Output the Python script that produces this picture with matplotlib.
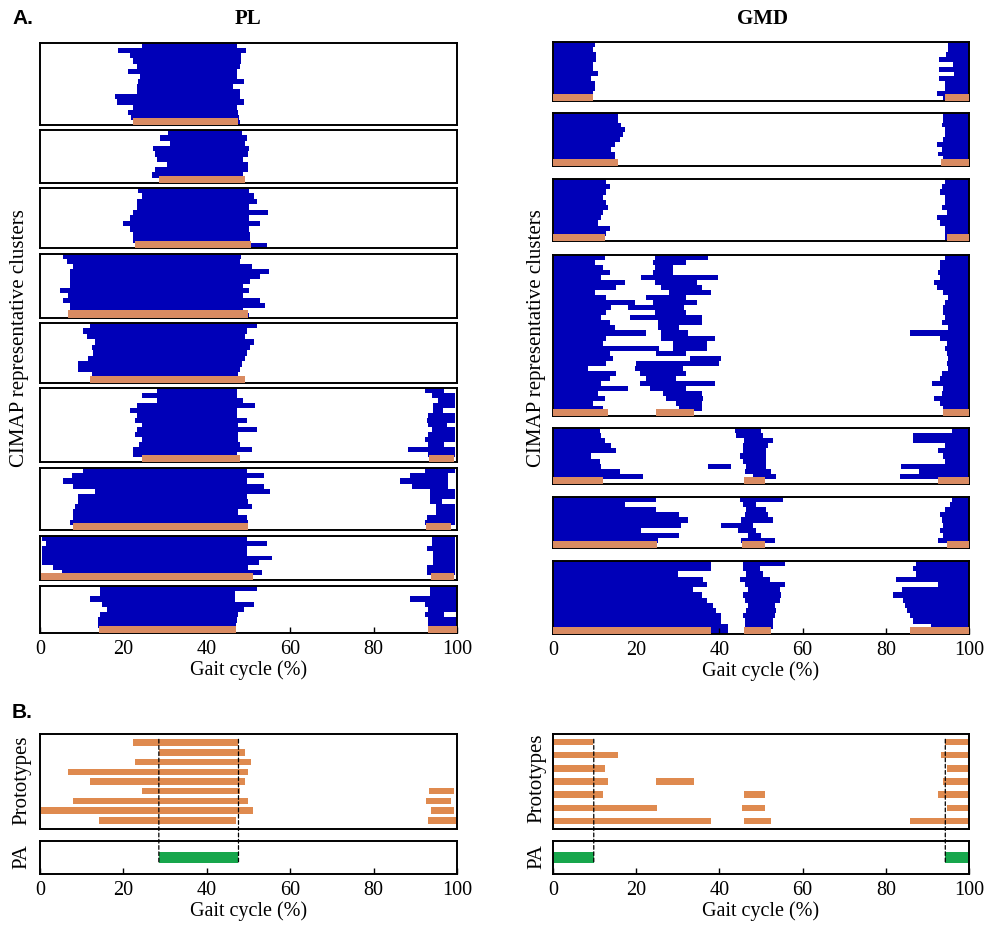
import matplotlib
matplotlib.use('Agg')
import matplotlib.pyplot as plt
from matplotlib.patches import ConnectionPatch

# ---------------- DATA (gait cycle %, rows listed top to bottom) ----------------
PL_C1 = [[(24.4, 47.2)], [(18.8, 49.3)], [(21.6, 48.3)], [(22.4, 48.3)], [(23.2, 47.9)],
         [(21.2, 47.2)], [(24.0, 47.2)], [(23.5, 48.9)], [(23.2, 46.4)], [(23.2, 47.9)],
         [(18.0, 47.9)], [(18.4, 49.0)], [(22.4, 47.2)], [(21.2, 47.6)], [(21.9, 47.8)],
         [(22.4, 48.0)]]
PL_C2 = [[(30.7, 48.4)], [(28.8, 49.6)], [(31.2, 49.2)], [(27.1, 50.0)], [(27.6, 50.0)],
         [(28.0, 48.6)], [(30.4, 50.0)], [(27.6, 50.0)], [(26.8, 48.8)], [(28.6, 49.2)]]
PL_C3 = [[(23.5, 50.0)], [(24.4, 51.2)], [(23.2, 52.0)], [(23.2, 50.0)], [(22.4, 54.7)],
         [(21.6, 50.2)], [(20.0, 52.8)], [(21.6, 50.2)], [(22.4, 50.4)], [(22.4, 50.4)],
         [(22.8, 54.4)]]
PL_C4 = [[(5.6, 48.3)], [(6.4, 47.9)], [(8.0, 50.8)], [(7.2, 54.8)], [(7.2, 52.8)],
         [(7.2, 50.4)], [(7.2, 48.6)], [(4.8, 50.0)], [(6.8, 48.6)], [(5.6, 52.8)],
         [(7.2, 54.0)], [(7.2, 48.6)], [(6.8, 50.0)]]
PL_C5 = [[(12.0, 52.0)], [(10.4, 49.6)], [(11.2, 49.2)], [(13.2, 51.2)], [(12.4, 50.4)],
         [(12.8, 49.6)], [(11.6, 49.2)], [(9.2, 48.4)], [(9.2, 48.0)], [(12.4, 47.6)],
         [(12.4, 49.2)]]
PL_C6 = [[(28.0, 47.2), (92.3, 97.0)], [(24.4, 47.2), (94.0, 99.5)], [(28.0, 48.8), (95.5, 99.5)],
         [(23.2, 51.6), (94.3, 99.5)], [(21.6, 47.2), (94.3, 96.6)], [(23.2, 47.2), (93.0, 99.5)],
         [(22.8, 49.6), (92.7, 99.5)], [(24.4, 47.6), (93.0, 97.5)], [(23.2, 52.0), (94.0, 99.5)],
         [(22.8, 47.6), (93.0, 99.5)], [(24.4, 47.6), (92.3, 99.5)], [(23.8, 48.0), (93.0, 97.0)],
         [(22.4, 50.8), (88.3, 99.5)], [(22.4, 47.2), (93.0, 99.5)], [(24.4, 47.9), (93.4, 99.4)]]
PL_C7 = [[(10.4, 49.6), (92.3, 99.5)], [(7.6, 53.6), (88.7, 97.8)], [(5.6, 49.6), (86.3, 97.8)],
         [(8.0, 53.6), (89.1, 97.8)], [(13.2, 55.2), (93.5, 99.5)], [(9.2, 49.6), (93.5, 99.5)],
         [(9.2, 49.9), (93.5, 96.5)], [(8.4, 50.8), (95.0, 99.5)], [(8.0, 47.6), (95.0, 99.5)],
         [(8.0, 49.6), (92.7, 99.5)], [(7.2, 49.9), (92.3, 99.5)], [(8.0, 49.9), (92.7, 98.6)]]
PL_C8 = [[(0.4, 49.6), (94.0, 99.5)], [(1.5, 54.4), (94.0, 99.5)], [(0.4, 49.6), (92.7, 99.5)],
         [(0.4, 49.6), (94.3, 99.5)], [(0.4, 55.6), (94.3, 99.5)], [(0.4, 52.4), (94.3, 99.5)],
         [(3.2, 49.9), (92.7, 99.5)], [(5.2, 53.2), (92.7, 99.5)], [(0.2, 51.1), (93.8, 99.4)]]
PL_C9 = [[(14.4, 52.0), (93.5, 100)], [(14.4, 46.8), (93.5, 100)], [(12.0, 46.8), (88.7, 100)],
         [(14.8, 51.2), (92.3, 100)], [(16.0, 49.0), (93.0, 100)], [(14.4, 47.5), (92.3, 97.0)],
         [(14.0, 47.2), (93.0, 100)], [(14.0, 47.0), (93.0, 100)], [(14.1, 47.0), (93.0, 100)]]

GMD_C1 = [[(0, 10.0), (94.9, 100)], [(0, 9.6), (94.9, 100)], [(0, 10.4), (94.5, 100)],
          [(0, 10.4), (92.9, 100)], [(0, 9.6), (96.1, 100)], [(0, 9.6), (92.9, 100)],
          [(0, 10.8), (96.4, 100)], [(0, 9.2), (92.9, 100)], [(0, 10.0), (94.2, 100)],
          [(0, 10.0), (94.2, 100)], [(0, 9.6), (92.2, 100)], [(0, 9.6), (93.7, 100)]]
GMD_C2 = [[(0, 15.6), (93.8, 100)], [(0, 15.6), (93.8, 100)], [(0, 16.4), (93.4, 100)],
          [(0, 17.2), (94.2, 100)], [(0, 16.8), (94.2, 100)], [(0, 16.0), (93.8, 100)],
          [(0, 14.8), (92.2, 100)], [(0, 14.0), (93.4, 100)], [(0, 14.8), (92.6, 100)],
          [(0, 14.8), (93.8, 100)], [(0, 15.6), (93.4, 100)]]
GMD_C3 = [[(0, 12.8), (94.2, 100)], [(0, 13.6), (93.4, 100)], [(0, 12.8), (93.0, 100)],
          [(0, 12.0), (94.2, 100)], [(0, 12.8), (94.2, 100)], [(0, 13.2), (93.4, 100)],
          [(0, 12.0), (94.6, 100)], [(0, 11.6), (92.2, 100)], [(0, 10.8), (93.0, 100)],
          [(0, 13.6), (94.2, 100)], [(0, 12.8), (94.2, 100)], [(0, 12.4), (94.2, 100)]]
GMD_C4 = [[(0, 12.4), (24.4, 37.3), (94.2, 100)], [(0, 10.0), (24.0, 32.0), (93.0, 100)],
          [(0, 12.0), (24.4, 28.8), (93.0, 100)], [(0, 13.6), (24.0, 28.8), (92.6, 100)],
          [(0, 11.6), (21.2, 39.7), (93.0, 100)], [(0, 17.2), (24.4, 34.5), (91.7, 100)],
          [(0, 15.2), (26.0, 35.7), (92.2, 100)], [(0, 10.0), (28.0, 38.0), (93.8, 100)],
          [(0, 12.8), (22.4, 32.0), (95.0, 100)], [(0, 19.6), (24.0, 34.5), (94.2, 100)],
          [(0, 14.0), (18.0, 31.6), (93.8, 100)], [(0, 12.8), (24.4, 32.0), (93.8, 100)],
          [(0, 11.6), (18.4, 35.7), (94.2, 100)], [(0, 13.6), (25.2, 35.7), (93.4, 100)],
          [(0, 14.8), (25.2, 30.4), (95.0, 100)], [(0, 22.4), (26.0, 32.4), (85.7, 100)],
          [(0, 12.8), (26.0, 38.9), (93.0, 100)], [(0, 12.0), (28.8, 36.9), (94.6, 100)],
          [(0, 25.6), (28.8, 36.9), (94.2, 100)], [(0, 13.6), (24.8, 32.0), (94.6, 100)],
          [(0, 14.4), (32.9, 40.5), (95.0, 100)], [(0, 12.8), (20.0, 40.0), (94.6, 100)],
          [(0, 8.4), (19.6, 31.3), (95.0, 100)], [(0, 15.2), (20.8, 32.0), (93.4, 100)],
          [(0, 13.6), (22.4, 29.6), (93.0, 100)], [(0, 11.6), (20.8, 38.9), (91.0, 100)],
          [(0, 18.0), (23.2, 32.0), (93.8, 100)], [(0, 10.8), (26.4, 35.7), (93.4, 100)],
          [(0, 12.4), (27.2, 36.0), (91.7, 100)], [(0, 9.6), (29.6, 35.7), (93.0, 100)],
          [(0, 12.0), (30.4, 35.7), (93.8, 100)], [(0, 13.2), (24.7, 33.9), (93.7, 100)]]
GMD_C5 = [[(0, 11.2), (43.7, 50.0), (95.8, 100)], [(0, 11.6), (44.0, 50.5), (86.5, 100)],
          [(0, 12.4), (46.0, 52.9), (86.5, 100)], [(0, 14.0), (45.7, 51.7), (94.2, 100)],
          [(0, 15.2), (45.7, 51.3), (92.5, 100)], [(0, 9.2), (44.9, 51.3), (93.8, 100)],
          [(0, 11.2), (45.7, 51.3), (94.2, 100)], [(0, 11.6), (37.3, 42.9), (46.5, 51.3), (83.7, 100)],
          [(0, 16.0), (46.1, 52.5), (88.1, 100)], [(0, 21.6), (48.1, 53.7), (83.3, 100)],
          [(0, 11.6), (45.8, 51.0), (92.5, 100)]]
GMD_C6 = [[(0, 24.8), (44.9, 55.3), (95.8, 100)], [(0, 17.2), (45.7, 48.9), (95.4, 100)],
          [(0, 24.8), (46.5, 51.3), (94.2, 100)], [(0, 30.4), (46.1, 51.7), (93.0, 100)],
          [(0, 32.5), (45.3, 52.9), (93.4, 100)], [(0, 30.8), (40.5, 48.1), (93.8, 100)],
          [(0, 21.2), (44.5, 48.9), (93.0, 100)], [(0, 30.4), (46.9, 50.1), (93.8, 100)],
          [(0, 25.2), (45.3, 53.3), (92.6, 100)], [(0, 25.0), (45.4, 51.0), (94.6, 100)]]
GMD_C7 = [[(0, 38.0), (45.7, 55.7), (87.3, 100)], [(0, 38.0), (45.7, 49.7), (86.5, 100)],
          [(0, 30.0), (46.5, 50.5), (87.3, 100)], [(0, 36.0), (44.9, 52.1), (82.5, 100)],
          [(0, 36.9), (46.1, 55.7), (92.6, 100)], [(0, 33.7), (46.9, 54.5), (83.8, 100)],
          [(0, 35.7), (45.7, 54.9), (81.7, 100)], [(0, 36.9), (46.1, 54.5), (84.1, 100)],
          [(0, 38.5), (46.9, 53.3), (84.5, 100)], [(0, 39.3), (46.5, 53.7), (85.0, 100)],
          [(0, 40.5), (45.7, 53.3), (85.7, 100)], [(0, 40.5), (46.1, 52.9), (86.5, 100)],
          [(0, 42.0), (46.1, 52.9), (90.9, 100)], [(0, 42.0), (45.8, 52.3), (87.0, 100)]]

PL_PROTO = [[(22.3, 47.5)], [(28.5, 49.1)], [(22.7, 50.5)], [(6.8, 49.9)], [(12.0, 49.1)],
            [(24.4, 47.9), (93.4, 99.4)], [(8.0, 49.9), (92.6, 98.6)],
            [(0.2, 51.1), (93.8, 99.4)], [(14.1, 47.0), (93.0, 100)]]
GMD_PROTO = [[(0, 9.6), (94.2, 100)], [(0, 15.6), (93.3, 100)], [(0, 12.4), (94.6, 100)],
             [(0, 13.2), (24.7, 33.9), (93.8, 100)], [(0, 12.0), (45.8, 51.0), (92.5, 100)],
             [(0, 25.0), (45.4, 51.0), (94.6, 100)], [(0, 38.0), (45.8, 52.3), (85.7, 100)]]
PL_PA = [(28.5, 47.6)]
GMD_PA = [(0, 9.8), (94.3, 100)]

PL_CLUSTERS = [PL_C1, PL_C2, PL_C3, PL_C4, PL_C5, PL_C6, PL_C7, PL_C8, PL_C9]
GMD_CLUSTERS = [GMD_C1, GMD_C2, GMD_C3, GMD_C4, GMD_C5, GMD_C6, GMD_C7]
XTICKS = [0, 20, 40, 60, 80, 100]
XLABEL = 'Gait cycle (%)'

# ---------------- LAYOUT (pixels) ----------------
W, H = 984, 927
PL_X = (40, 457)
GMD_X = (553, 969)
PL_Y = [(43, 125), (130, 183), (188, 248), (254, 318), (323, 383), (388, 462),
        (468, 530), (536, 580), (586, 633)]
GMD_Y = [(42, 101), (113, 166), (179, 241), (255, 416), (428, 484), (497, 548), (561, 634)]
PROTO_Y = (734, 829)
PA_Y = (841, 874)

BLUE = '#0000b8'
ORANGE_A = '#d98b62'
ORANGE_B = '#df8a4f'
GREEN = '#17a64c'
SERIF = ['Liberation Serif', 'DejaVu Serif']
TICKFS = 14.5

plt.rcParams['font.family'] = SERIF

fig = plt.figure(figsize=(W / 100, H / 100), dpi=100)


def add_ax(xr, yr):
    x0, x1 = xr
    yt, yb = yr
    ax = fig.add_axes([x0 / W, 1 - yb / H, (x1 - x0) / W, (yb - yt) / H])
    for s in ax.spines.values():
        s.set_linewidth(1.4)
        s.set_color('black')
    ax.set_xlim(0, 100)
    ax.set_yticks([])
    ax.set_xticks([])
    return ax


def style_bottom(ax):
    ax.set_xticks(XTICKS)
    ax.set_xticklabels([str(t) for t in XTICKS], fontsize=TICKFS)
    ax.tick_params(axis='x', direction='in', length=4, width=1, pad=5)
    ax.set_xlabel(XLABEL, fontsize=TICKFS, labelpad=1)


def draw_cluster(ax, rows, proto, hpx):
    n = len(rows)
    for i, row in enumerate(rows):
        y = n - 1 - i
        for (a, b) in row:
            ax.barh(y, b - a, left=a, height=1.0, align='edge', color=BLUE,
                    edgecolor='none', linewidth=0)
    p = 7.5 * n / hpx
    for (a, b) in proto:
        ax.barh(0, b - a, left=a, height=p, align='edge', color=ORANGE_A,
                edgecolor='none', linewidth=0, zorder=3)
    ax.set_ylim(0, n)


for clusters, protos, xr, yrs in [(PL_CLUSTERS, PL_PROTO, PL_X, PL_Y),
                                  (GMD_CLUSTERS, GMD_PROTO, GMD_X, GMD_Y)]:
    for k, (rows, yr) in enumerate(zip(clusters, yrs)):
        ax = add_ax(xr, yr)
        draw_cluster(ax, rows, protos[k], yr[1] - yr[0])
        if k == len(clusters) - 1:
            style_bottom(ax)

# ---------------- Panel B ----------------
for protos, pa, xr, bh in [(PL_PROTO, PL_PA, PL_X, 0.66), (GMD_PROTO, GMD_PA, GMD_X, 0.47)]:
    axp = add_ax(xr, PROTO_Y)
    n = len(protos)
    for i, row in enumerate(protos):
        for (a, b) in row:
            axp.barh(i + 1, b - a, left=a, height=bh, color=ORANGE_B,
                     edgecolor='none', linewidth=0)
    margin = 0.88 if n == 9 else 0.64
    axp.set_ylim(n + margin, 1 - margin)

    axa = add_ax(xr, PA_Y)
    for (a, b) in pa:
        axa.barh(0.5, b - a, left=a, height=1 / 3, color=GREEN,
                 edgecolor='none', linewidth=0)
    axa.set_ylim(0, 1)
    style_bottom(axa)

    # dashed lines at PA boundaries (interior ones only)
    for (a, b) in pa:
        for xv in (a, b):
            if 0 < xv < 100:
                con = ConnectionPatch(xyA=(xv, 1 - bh / 2), coordsA=axp.transData,
                                      xyB=(xv, 1 / 3), coordsB=axa.transData,
                                      linestyle=(0, (3, 2)), color='black',
                                      linewidth=0.9, zorder=5)
                fig.add_artist(con)

# ---------------- Text ----------------
def ftext(x, y, s, **kw):
    fig.text(x / W, 1 - y / H, s, **kw)

ftext(12, 19, 'A.', fontsize=15, fontweight='bold', family=['Liberation Sans', 'DejaVu Sans'],
      ha='left', va='center')
ftext(12, 713, 'B.', fontsize=15, fontweight='bold', family=['Liberation Sans', 'DejaVu Sans'],
      ha='left', va='center')
ftext(248, 19, 'PL', fontsize=15, fontweight='bold', ha='center', va='center')
ftext(762, 19, 'GMD', fontsize=15, fontweight='bold', ha='center', va='center')
ftext(20, 338, 'CIMAP representative clusters', fontsize=15, rotation=90,
      ha='center', va='center')
ftext(537, 338, 'CIMAP representative clusters', fontsize=15, rotation=90,
      ha='center', va='center')
ftext(22, 780, 'Prototypes', fontsize=15, rotation=90, ha='center', va='center')
ftext(22, 857, 'PA', fontsize=15, rotation=90, ha='center', va='center')
ftext(537, 778, 'Prototypes', fontsize=15, rotation=90, ha='center', va='center')
ftext(537, 857, 'PA', fontsize=15, rotation=90, ha='center', va='center')

fig.savefig('out.png', dpi=100)
